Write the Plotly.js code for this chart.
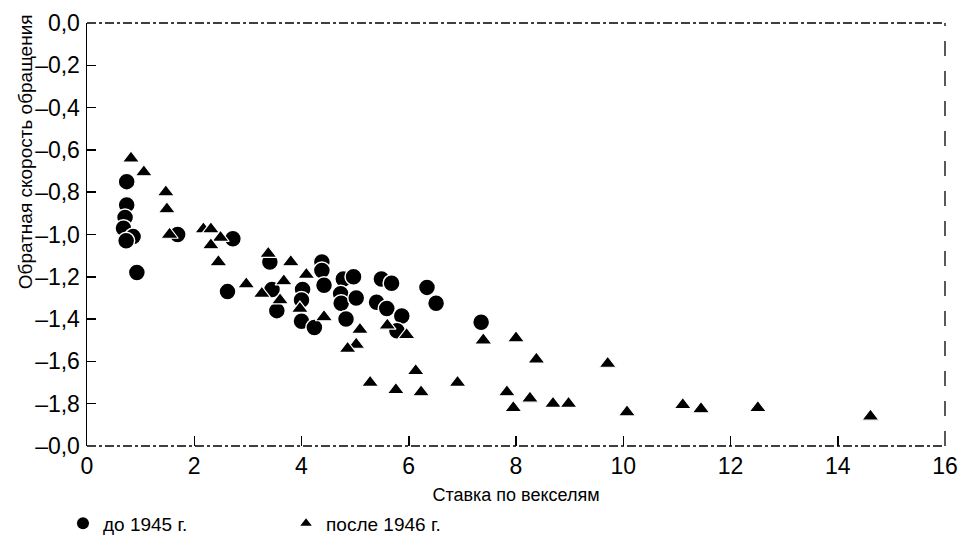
<!DOCTYPE html>
<html>
<head>
<meta charset="utf-8">
<script src="https://cdn.plot.ly/plotly-3.0.1.min.js"></script>
<style>html,body{margin:0;padding:0;background:#fff;}#chart{width:972px;height:553px;}</style>
</head>
<body>
<div id="chart"></div>
<script>
// до 1945 г. (circles)
const preX = [0.74,0.74,0.71,0.68,0.86,0.73,0.93,1.69,2.72,3.41,2.62,3.45,3.54,4.02,4.00,4.00,4.24,4.38,4.38,4.42,4.78,4.97,4.73,4.74,5.02,4.83,5.49,5.68,5.40,5.59,5.87,5.78,6.34,6.51,7.35];
const preY = [-0.75,-0.86,-0.92,-0.97,-1.01,-1.03,-1.18,-1.00,-1.02,-1.13,-1.27,-1.26,-1.36,-1.26,-1.31,-1.41,-1.44,-1.13,-1.17,-1.24,-1.21,-1.20,-1.28,-1.325,-1.30,-1.40,-1.21,-1.23,-1.32,-1.35,-1.385,-1.455,-1.25,-1.325,-1.415];
// после 1946 г. (triangles)
const postX = [0.82,1.06,1.47,1.49,1.54,2.17,2.31,2.49,2.31,2.45,3.38,2.97,3.26,3.80,3.67,4.09,3.60,3.97,4.42,5.09,5.02,4.86,5.60,5.96,6.13,7.39,8.00,8.38,9.71,6.91,5.28,5.76,6.23,7.83,8.26,8.69,8.98,7.95,10.07,11.11,11.45,12.51,14.61];
const postY = [-0.64,-0.705,-0.80,-0.88,-1.00,-0.975,-0.975,-1.015,-1.05,-1.13,-1.09,-1.235,-1.28,-1.13,-1.22,-1.19,-1.31,-1.35,-1.39,-1.45,-1.52,-1.54,-1.43,-1.475,-1.645,-1.50,-1.49,-1.59,-1.61,-1.70,-1.70,-1.735,-1.745,-1.745,-1.775,-1.80,-1.80,-1.82,-1.84,-1.805,-1.825,-1.82,-1.86];

const yTickVals = [0,-0.2,-0.4,-0.6,-0.8,-1.0,-1.2,-1.4,-1.6,-1.8,-2.0];
const yTickText = ['0,0','–0,2','–0,4','–0,6','–0,8','–1,0','–1,2','–1,4','–1,6','–1,8','–0,0'];
const xTickVals = [0,2,4,6,8,10,12,14,16];
const xTickText = ['0','2','4','6','8','10','12','14','16'];

const seriesNames = ['до 1945 г.','после 1946 г.'];

const FONT = 'Liberation Sans, Arial, sans-serif';

const traces = [
  {x: preX, y: preY, type:'scatter', mode:'markers', showlegend:false,
   marker:{symbol:'circle', size:17, color:'#000', line:{color:'#fff', width:1.5}}},
  {x: postX, y: postY, type:'scatter', mode:'markers', showlegend:false,
   marker:{symbol:'triangle-up', size:15, color:'#000', line:{color:'#fff', width:1.2}}},
  {x:[null], y:[null], type:'scatter', mode:'markers', name: seriesNames[0], legend:'legend',
   marker:{symbol:'circle', size:12, color:'#000'}},
  {x:[null], y:[null], type:'scatter', mode:'markers', name: seriesNames[1], legend:'legend2',
   marker:{symbol:'triangle-up', size:10, color:'#000'}}
];

const frameLine = {color:'#000', width:1.3};
const layout = {
  width:972, height:553,
  margin:{l:87, r:27, t:23, b:106},
  paper_bgcolor:'#fff', plot_bgcolor:'#fff',
  font:{family:FONT, color:'#000'},
  xaxis:{range:[0,16], tickvals:xTickVals, ticktext:xTickText, ticks:'inside', ticklen:10, tickwidth:1.5,
    tickcolor:'#000', showgrid:false, zeroline:false, showline:false,
    tickfont:{size:23, family:FONT}, ticklabelstandoff:4,
    title:{text:'Ставка по векселям', font:{size:18, family:FONT}, standoff:10}},
  yaxis:{range:[-2,0], tickvals:yTickVals, ticktext:yTickText, ticks:'inside', ticklen:9, tickwidth:1.5,
    tickcolor:'#000', showgrid:false, zeroline:false, showline:true, linecolor:'#000', linewidth:1.5,
    tickfont:{size:23, family:FONT}, ticklabelstandoff:1},
  shapes:[
    {type:'line', xref:'paper', yref:'paper', x0:0, x1:1, y0:1, y1:1, line:Object.assign({dash:'dashdot'}, frameLine)},
    {type:'line', xref:'paper', yref:'paper', x0:0, x1:1, y0:0, y1:0, line:Object.assign({dash:'dashdot'}, frameLine)},
    {type:'line', xref:'paper', yref:'paper', x0:1, x1:1, y0:0, y1:1, line:Object.assign({dash:'longdash'}, frameLine)}
  ],
  annotations:[
    {text:'Обратная скорость обращения', xref:'paper', yref:'paper', x:-0.072, y:0.695,
     textangle:-90, showarrow:false, xanchor:'center', yanchor:'middle', font:{size:19, family:FONT}}
  ],
  legend:{x:-0.028, y:-0.18, xanchor:'left', yanchor:'middle', font:{size:19, family:FONT}, bgcolor:'rgba(0,0,0,0)'},
  legend2:{x:0.232, y:-0.18, xanchor:'left', yanchor:'middle', font:{size:19, family:FONT}, bgcolor:'rgba(0,0,0,0)'}
};

Plotly.newPlot('chart', traces, layout, {displayModeBar:false, staticPlot:true});
</script>
</body>
</html>
